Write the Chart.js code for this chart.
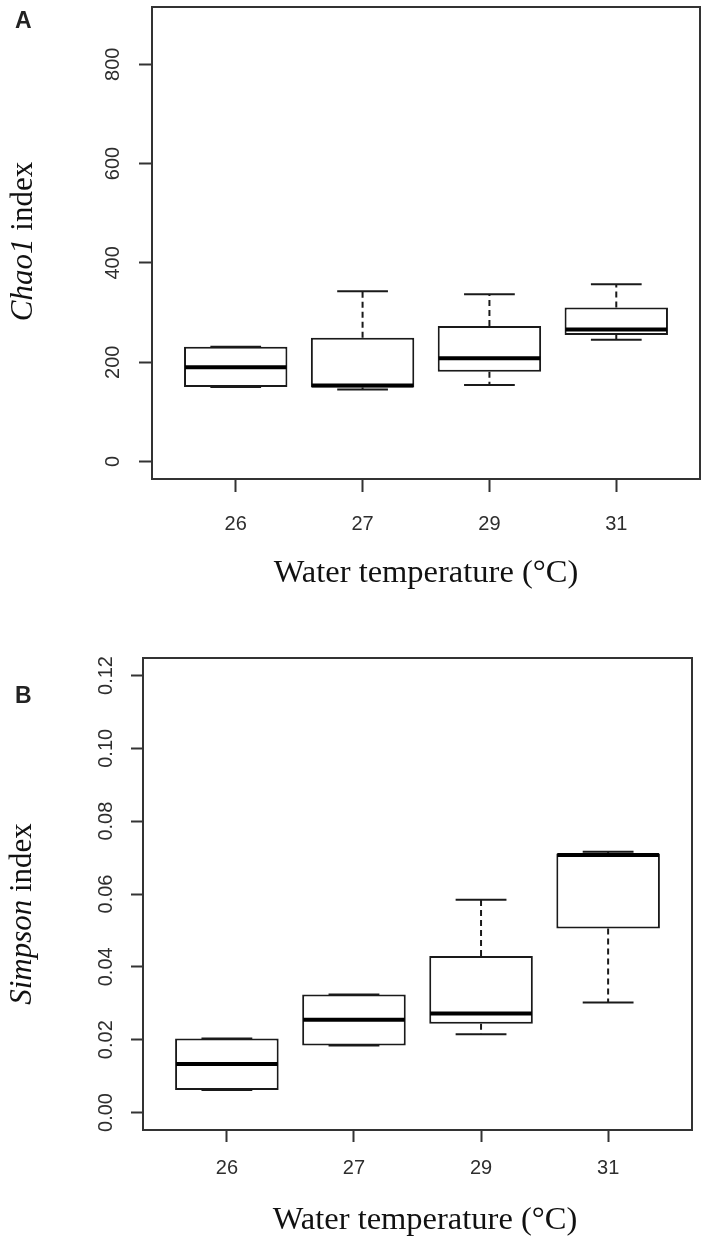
<!DOCTYPE html>
<html><head><meta charset="utf-8">
<script src="https://cdn.jsdelivr.net/npm/chart.js@4.4.1/dist/chart.umd.min.js"></script>
<style>
html,body{margin:0;padding:0;background:#fff;}
body{width:708px;height:1239px;position:relative;overflow:hidden;}
canvas{position:absolute;left:0;}
#cA{top:0;} #cB{top:620px;}
</style></head><body>
<canvas id="cA" width="708" height="620"></canvas>
<canvas id="cB" width="708" height="619"></canvas>
<script>
// ---------- data ----------
const categories = ['26', '27', '29', '31'];

const chaoMin    = [150, 145, 154, 245];
const chaoQ1     = [150, 149, 181, 255];
const chaoMedian = [190, 153, 208, 266];
const chaoQ3     = [231, 249, 273, 310];
const chaoMax    = [231, 343, 337, 357];

const simpsonMin    = [0.0062, 0.0184, 0.0215, 0.0302];
const simpsonQ1     = [0.0062, 0.0184, 0.0244, 0.0505];
const simpsonMedian = [0.0133, 0.0255, 0.0272, 0.0707];
const simpsonQ3     = [0.0203, 0.0324, 0.0430, 0.0711];
const simpsonMax    = [0.0203, 0.0324, 0.0584, 0.0716];

const chaoTicks = [0, 200, 400, 600, 800];
const chaoTickLabels = ['0', '200', '400', '600', '800'];
const simpsonTicks = [0, 0.02, 0.04, 0.06, 0.08, 0.10, 0.12];
const simpsonTickLabels = ['0.00', '0.02', '0.04', '0.06', '0.08', '0.10', '0.12'];

const xTitleText = 'Water temperature (°C)';

// ---------- styling ----------
const INK = '#1a1a1a';
const AXIS = '#333333';
const TICKFONT = {family: '"Liberation Sans", Arial, sans-serif', size: 20};
const SERIF = '"Liberation Serif", "Times New Roman", serif';

function boxPlugin(stats) {
  return {
    id: 'boxExtras',
    afterDatasetsDraw(chart) {
      const xs = chart.scales.x, ys = chart.scales.y, ctx = chart.ctx;
      ctx.save();
      for (let i = 0; i < categories.length; i++) {
        const c = i + 1;
        const x = xs.getPixelForValue(c);
        const capL = xs.getPixelForValue(c - 0.2), capR = xs.getPixelForValue(c + 0.2);
        const bL = xs.getPixelForValue(c - 0.4), bR = xs.getPixelForValue(c + 0.4);
        const yMin = ys.getPixelForValue(stats.min[i]);
        const yQ1 = ys.getPixelForValue(stats.q1[i]);
        const yQ3 = ys.getPixelForValue(stats.q3[i]);
        const yMax = ys.getPixelForValue(stats.max[i]);
        const yMed = ys.getPixelForValue(stats.median[i]);
        ctx.strokeStyle = INK;
        ctx.lineWidth = 2;
        ctx.setLineDash([6, 4]);
        if (stats.max[i] > stats.q3[i]) {
          ctx.beginPath(); ctx.moveTo(x, yQ3); ctx.lineTo(x, yMax); ctx.stroke();
        }
        if (stats.min[i] < stats.q1[i]) {
          ctx.beginPath(); ctx.moveTo(x, yQ1); ctx.lineTo(x, yMin); ctx.stroke();
        }
        ctx.setLineDash([]);
        ctx.beginPath(); ctx.moveTo(capL, yMax); ctx.lineTo(capR, yMax); ctx.stroke();
        ctx.beginPath(); ctx.moveTo(capL, yMin); ctx.lineTo(capR, yMin); ctx.stroke();
        ctx.strokeStyle = '#000';
        ctx.lineWidth = 4;
        ctx.beginPath(); ctx.moveTo(bL, yMed); ctx.lineTo(bR, yMed); ctx.stroke();
      }
      ctx.restore();
    }
  };
}

const framePlugin = {
  id: 'frame',
  afterDraw(chart) {
    const a = chart.chartArea, ctx = chart.ctx;
    ctx.save();
    ctx.strokeStyle = AXIS;
    ctx.lineWidth = 2;
    ctx.strokeRect(a.left, a.top, a.right - a.left, a.bottom - a.top);
    ctx.restore();
  }
};

function textPlugin(t) {
  return {
    id: 'panelText',
    afterDraw(chart) {
      const ctx = chart.ctx;
      ctx.save();
      // panel letter
      ctx.fillStyle = '#222';
      ctx.font = 'bold 23px "Liberation Sans", Arial, sans-serif';
      ctx.textAlign = 'left';
      ctx.textBaseline = 'alphabetic';
      ctx.fillText(t.panel, t.panelX, t.panelY);
      // y title (italic part + upright part), rotated
      ctx.fillStyle = '#111';
      const fi = 'italic 31px ' + SERIF, fn = '31px ' + SERIF;
      ctx.font = fi; const w1 = ctx.measureText(t.yItalic).width;
      ctx.font = fn; const w2 = ctx.measureText(t.yRest).width;
      ctx.translate(t.yTitleX, t.yTitleY);
      ctx.rotate(-Math.PI / 2);
      ctx.textAlign = 'left';
      ctx.font = fi; ctx.fillText(t.yItalic, -(w1 + w2) / 2, 0);
      ctx.font = fn; ctx.fillText(t.yRest, -(w1 + w2) / 2 + w1, 0);
      ctx.setTransform(1, 0, 0, 1, 0, 0);
      // x title
      ctx.font = '32.5px ' + SERIF;
      ctx.textAlign = 'center';
      ctx.textBaseline = 'middle';
      ctx.fillText(xTitleText, t.xTitleX, t.xTitleY);
      ctx.restore();
    }
  };
}

function makeChart(id, stats, tickVals, tickLabels, L) {
  const boxes = categories.map((c, i) => ({x: i + 1, y: [stats.q1[i], stats.q3[i]]}));
  return new Chart(document.getElementById(id), {
    type: 'bar',
    data: {
      datasets: [{
        data: boxes,
        backgroundColor: '#ffffff',
        borderColor: INK,
        borderWidth: 2,
        borderSkipped: false,
        categoryPercentage: 1,
        barPercentage: 0.815
      }]
    },
    options: {
      responsive: false,
      animation: false,
      devicePixelRatio: 1,
      layout: {padding: L.padding, autoPadding: false},
      plugins: {legend: {display: false}, tooltip: {enabled: false}, title: {display: false}},
      scales: {
        x: {
          type: 'linear',
          min: 0.34, max: 4.66,
          offset: false,
          afterBuildTicks: s => { s.ticks = categories.map((c, i) => ({value: i + 1})); },
          afterFit: s => { s.height = L.xHeight; s.paddingLeft = 0; s.paddingRight = 0; },
          border: {display: false},
          grid: {offset: false, drawOnChartArea: false, drawTicks: true, tickLength: L.tickLen, tickColor: AXIS, tickWidth: 2},
          ticks: {
            font: TICKFONT, color: '#2e2e2e', padding: L.xTickPad, maxRotation: 0, minRotation: 0,
            autoSkip: false,
            callback: v => categories[Math.round(v) - 1]
          }
        },
        y: {
          type: 'linear',
          min: L.ymin, max: L.ymax,
          afterBuildTicks: s => { s.ticks = tickVals.map(v => ({value: v})); },
          afterFit: s => { s.width = L.yWidth; s.paddingTop = 0; s.paddingBottom = 0; },
          border: {display: false},
          grid: {offset: false, drawOnChartArea: false, drawTicks: true, tickLength: L.tickLen, tickColor: AXIS, tickWidth: 2},
          ticks: {
            font: TICKFONT, color: '#2e2e2e', padding: L.yTickPad,
            minRotation: 90, maxRotation: 90, crossAlign: 'center', autoSkip: false,
            callback: v => {
              const k = tickVals.findIndex(t => Math.abs(t - v) < 1e-9);
              return k >= 0 ? tickLabels[k] : '';
            }
          }
        }
      }
    },
    plugins: [boxPlugin(stats), framePlugin, textPlugin(L.text)]
  });
}

makeChart('cA',
  {min: chaoMin, q1: chaoQ1, median: chaoMedian, q3: chaoQ3, max: chaoMax},
  chaoTicks, chaoTickLabels,
  {ymin: -35.2, ymax: 915.2, padding: {top: 7, right: 8, left: 0, bottom: 0},
   yWidth: 152, xHeight: 141, tickLen: 13, yTickPad: 9, xTickPad: 20,
   text: {panel: 'A', panelX: 15, panelY: 28, yItalic: 'Chao1', yRest: ' index',
          yTitleX: 32, yTitleY: 241.5, xTitleX: 426, xTitleY: 573}});

makeChart('cB',
  {min: simpsonMin, q1: simpsonQ1, median: simpsonMedian, q3: simpsonQ3, max: simpsonMax},
  simpsonTicks, simpsonTickLabels,
  {ymin: -0.0048, ymax: 0.1248, padding: {top: 38, right: 16, left: 0, bottom: 0},
   yWidth: 143, xHeight: 109, tickLen: 12, yTickPad: 5, xTickPad: 14,
   text: {panel: 'B', panelX: 15, panelY: 83, yItalic: 'Simpson', yRest: ' index',
          yTitleX: 31, yTitleY: 294, xTitleX: 425, xTitleY: 600}});
</script>
</body></html>
